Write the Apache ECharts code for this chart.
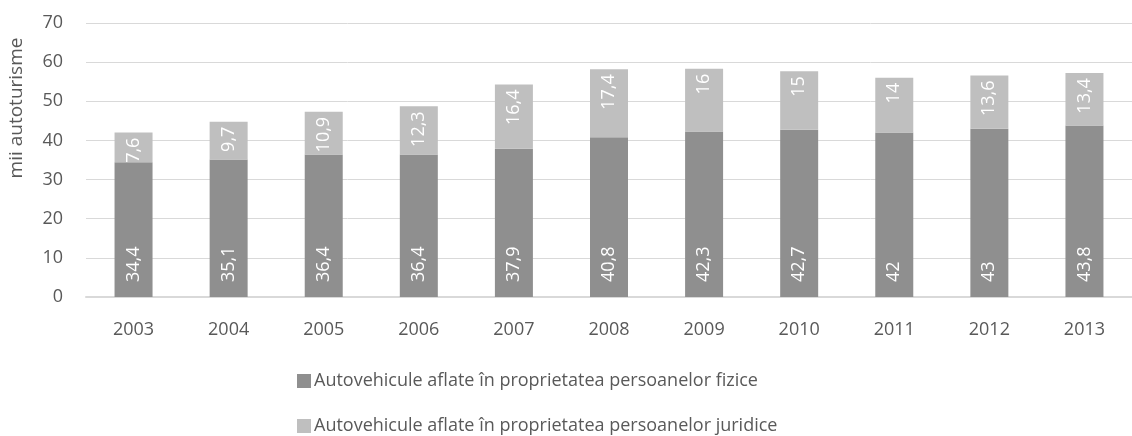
<!DOCTYPE html>
<html>
<head>
<meta charset="utf-8">
<script src="https://cdn.jsdelivr.net/npm/echarts@6/dist/echarts.min.js"></script>
<style>
  html, body { margin: 0; padding: 0; background: #fff; }
  #chart { width: 1132px; height: 436px; }
</style>
</head>
<body>
<div id="chart"></div>
<script>
// Autoturisme înmatriculate (mii), pe tip de proprietar
const years = ['2003', '2004', '2005', '2006', '2007', '2008', '2009', '2010', '2011', '2012', '2013'];
const fizice = [34.4, 35.1, 36.4, 36.4, 37.9, 40.8, 42.3, 42.7, 42, 43, 43.8];
const juridice = [7.6, 9.7, 10.9, 12.3, 16.4, 17.4, 16, 15, 14, 13.6, 13.4];
const yTicks = [0, 10, 20, 30, 40, 50, 60, 70];

const seriesNames = [
  'Autovehicule aflate în proprietatea persoanelor fizice',
  'Autovehicule aflate în proprietatea persoanelor juridice'
];

const FONT = '"Open Sans", "Liberation Sans", sans-serif';
const fmt = p => String(p.value).replace('.', ',');

const chart = echarts.init(document.getElementById('chart'), null, { renderer: 'canvas' });

chart.setOption({
  animation: false,
  textStyle: { fontFamily: FONT },
  grid: { left: 86, top: 23, width: 1059, height: 274, containLabel: false },
  xAxis: {
    type: 'category',
    data: years,
    axisLine: { lineStyle: { color: '#d9d9d9', width: 2 } },
    axisTick: { show: false },
    axisLabel: { color: '#595959', fontSize: 18, fontFamily: FONT, margin: 24 }
  },
  yAxis: {
    type: 'value',
    min: yTicks[0],
    max: yTicks[yTicks.length - 1],
    interval: 10,
    axisLine: { show: false },
    axisTick: { show: false },
    splitLine: { lineStyle: { color: '#d9d9d9', width: 1 } },
    axisLabel: { color: '#595959', fontSize: 18, fontFamily: FONT, margin: 23 }
  },
  graphic: [{
    type: 'text',
    x: 17,
    y: 108,
    rotation: Math.PI / 2,
    style: {
      text: 'mii autoturisme',
      fill: '#595959',
      font: '19px ' + FONT,
      align: 'center',
      verticalAlign: 'middle'
    }
  }],
  legend: {
    orient: 'vertical',
    left: 297,
    top: 372,
    padding: 0,
    itemWidth: 14,
    itemHeight: 14,
    itemGap: 27,
    icon: 'rect',
    textStyle: { color: '#595959', fontSize: 18, fontFamily: FONT, lineHeight: 18, padding: [0, 0, 0, -2] },
    data: seriesNames
  },
  series: [
    {
      name: seriesNames[0],
      type: 'bar',
      stack: 'total',
      barWidth: 38,
      data: fizice,
      itemStyle: { color: '#8f8f8f' },
      label: {
        show: true,
        position: 'insideBottom',
        rotate: 90,
        align: 'left',
        verticalAlign: 'middle',
        distance: 15,
        color: '#ffffff',
        fontSize: 18,
        fontFamily: FONT,
        formatter: fmt
      }
    },
    {
      name: seriesNames[1],
      type: 'bar',
      stack: 'total',
      barWidth: 38,
      data: juridice,
      itemStyle: { color: '#bfbfbf' },
      label: {
        show: true,
        position: 'insideTop',
        rotate: 90,
        align: 'right',
        verticalAlign: 'middle',
        distance: 5,
        color: '#ffffff',
        fontSize: 18,
        fontFamily: FONT,
        formatter: fmt
      }
    }
  ]
});
</script>
</body>
</html>
